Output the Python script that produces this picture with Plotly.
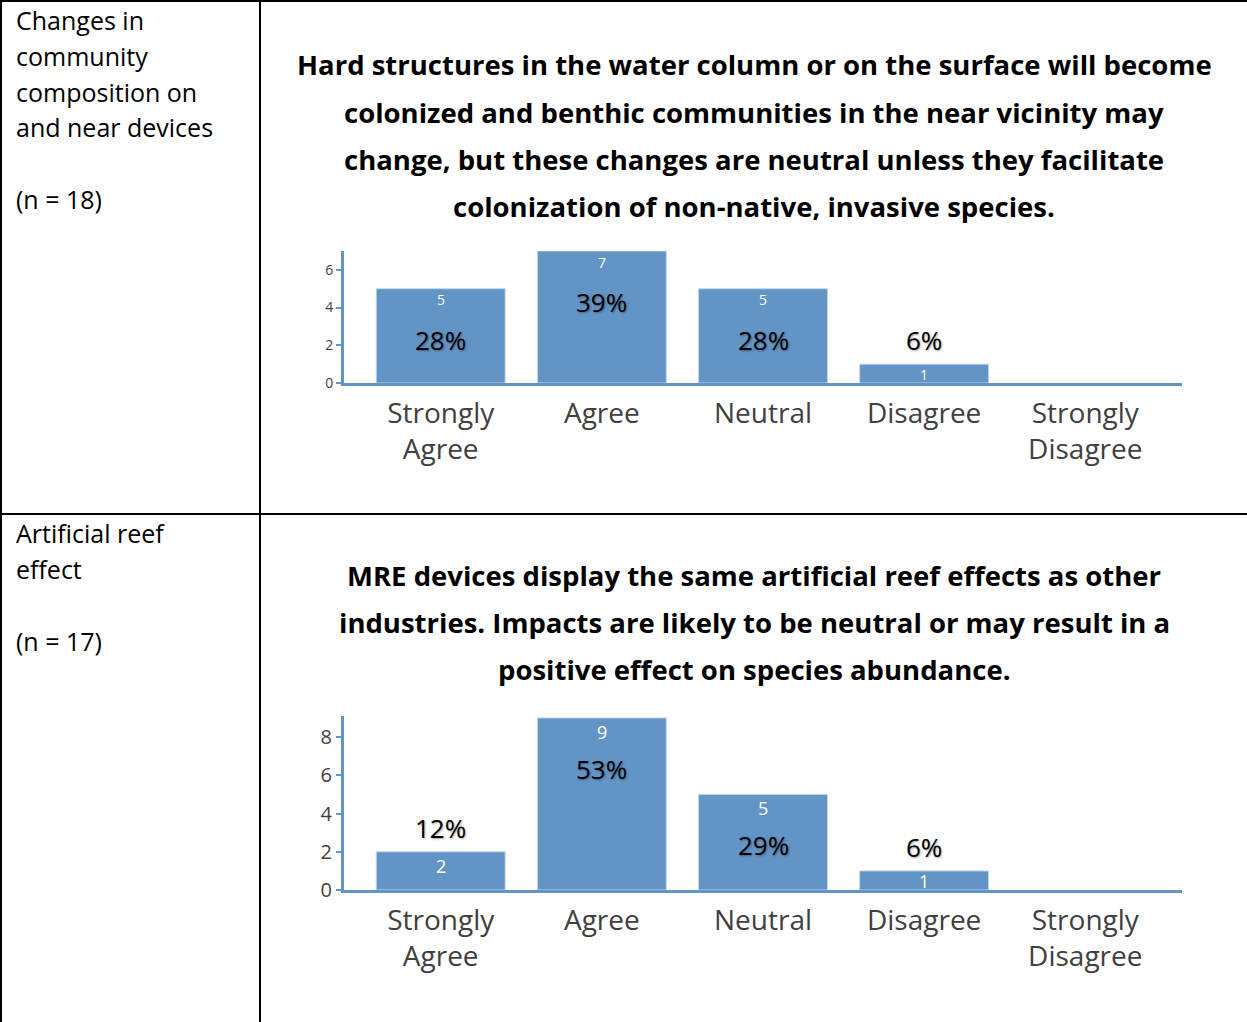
import plotly.graph_objects as go

W, H = 1247, 1022

categories = ["Strongly Agree", "Agree", "Neutral", "Disagree", "Strongly Disagree"]
cat_labels = ["Strongly<br>Agree", "Agree", "Neutral", "Disagree", "Strongly<br>Disagree"]

counts_1 = [5, 7, 5, 1, 0]
pcts_1 = ["28%", "39%", "28%", "6%", ""]
counts_2 = [2, 9, 5, 1, 0]
pcts_2 = ["12%", "53%", "29%", "6%", ""]

title_1 = [
    "Hard structures in the water column or on the surface will become",
    "colonized and benthic communities in the near vicinity may",
    "change, but these changes are neutral unless they facilitate",
    "colonization of non-native, invasive species.",
]
title_2 = [
    "MRE devices display the same artificial reef effects as other",
    "industries. Impacts are likely to be neutral or may result in a",
    "positive effect on species abundance.",
]
left_1 = ["Changes in", "community", "composition on", "and near devices", "", "(n = 18)"]
left_2 = ["Artificial reef", "effect", "", "(n = 17)"]

BAR = "#6394C6"
AXC = "#6394C6"
TXT = "#404040"

def px(x):
    return x / W

def py(y):
    return 1 - y / H

fig = go.Figure()

panels = [
    dict(counts=counts_1, pcts=pcts_1, xa="x", ya="y", cnt=14, cs=11),
    dict(counts=counts_2, pcts=pcts_2, xa="x2", ya="y2", cnt=18, cs=14),
]

annotations = []
for i, p in enumerate(panels):
    fig.add_trace(go.Bar(
        x=list(range(len(categories))), y=p["counts"],
        marker=dict(color=BAR, line=dict(color="#C5D6EA", width=[1 if v > 0 else 0 for v in p["counts"]])),
        xaxis=p["xa"], yaxis=p["ya"], hoverinfo="skip", showlegend=False,
    ))
    for k, (v, pc) in enumerate(zip(p["counts"], p["pcts"])):
        if v <= 0:
            continue
        annotations.append(dict(
            x=k, y=v, xref=p["xa"], yref=p["ya"], text=str(v), showarrow=False,
            yanchor="middle", yshift=-min(p["cs"], 10 * v),
            font=dict(family="Open Sans", size=p["cnt"], color="white"),
        ))
        big = v >= 3
        annotations.append(dict(
            x=k, y=v, xref=p["xa"], yref=p["ya"], text=pc, showarrow=False,
            yanchor="middle", yshift=-51 if big else 24,
            font=dict(family="Open Sans", size=26, color="black",
                      shadow="1px 1px 2px rgba(0,0,0,0.35)"),
        ))

axis_common = dict(showgrid=False, zeroline=False, showline=True, linecolor=AXC, linewidth=3,
                   automargin=False)
xcommon = dict(range=[-0.6, 4.6], tickvals=list(range(5)), ticktext=cat_labels,
               tickfont=dict(family="Open Sans", size=28, color=TXT), ticks="",
               ticklabelstandoff=3, **axis_common)
fig.update_layout(
    width=W, height=H, margin=dict(l=0, r=0, t=0, b=0, autoexpand=False),
    paper_bgcolor="white", plot_bgcolor="white",
    bargap=0.2,
    xaxis=dict(domain=[px(344), px(1182)], anchor="y", **xcommon),
    yaxis=dict(domain=[py(383), py(251)], anchor="x", range=[0, 7],
               tickvals=[0, 2, 4, 6], ticks="outside", ticklen=5, tickcolor=AXC, tickwidth=2,
               tickfont=dict(family="Open Sans", size=14, color=TXT),
               **axis_common),
    xaxis2=dict(domain=[px(344), px(1182)], anchor="y2", **xcommon),
    yaxis2=dict(domain=[py(890), py(716)], anchor="x2", range=[0, 9.1],
                tickvals=[0, 2, 4, 6, 8], ticks="outside", ticklen=5, tickcolor=AXC, tickwidth=2,
                tickfont=dict(family="Open Sans", size=20, color=TXT),
                **axis_common),
)

# titles
for j, line in enumerate(title_1):
    annotations.append(dict(x=px(754), y=py(65 + 47 * j), xref="paper", yref="paper",
                            text="<b>" + line + "</b>", showarrow=False, yanchor="middle",
                            font=dict(family="Open Sans", size=27.5, color="black")))
for j, line in enumerate(title_2):
    annotations.append(dict(x=px(754), y=py(575 + 47 * j), xref="paper", yref="paper",
                            text="<b>" + line + "</b>", showarrow=False, yanchor="middle",
                            font=dict(family="Open Sans", size=27.5, color="black")))
# left cells
for j, line in enumerate(left_1):
    if line:
        annotations.append(dict(x=px(14), y=py(20 + 35.8 * j), xref="paper", yref="paper",
                                text=line, showarrow=False, xanchor="left", yanchor="middle",
                                font=dict(family="Open Sans", size=25, color="black")))
for j, line in enumerate(left_2):
    if line:
        annotations.append(dict(x=px(14), y=py(533 + 36 * j), xref="paper", yref="paper",
                                text=line, showarrow=False, xanchor="left", yanchor="middle",
                                font=dict(family="Open Sans", size=25, color="black")))

shapes = [
    dict(type="line", xref="paper", yref="paper", x0=0, x1=1, y0=py(1), y1=py(1), line=dict(color="black", width=2)),
    dict(type="line", xref="paper", yref="paper", x0=px(1), x1=px(1), y0=0, y1=py(0), line=dict(color="black", width=2)),
    dict(type="line", xref="paper", yref="paper", x0=px(260), x1=px(260), y0=0, y1=py(0), line=dict(color="black", width=2)),
    dict(type="line", xref="paper", yref="paper", x0=0, x1=1, y0=py(514), y1=py(514), line=dict(color="black", width=2)),
]
fig.update_layout(annotations=annotations, shapes=shapes)

fig.write_html("out.html")
